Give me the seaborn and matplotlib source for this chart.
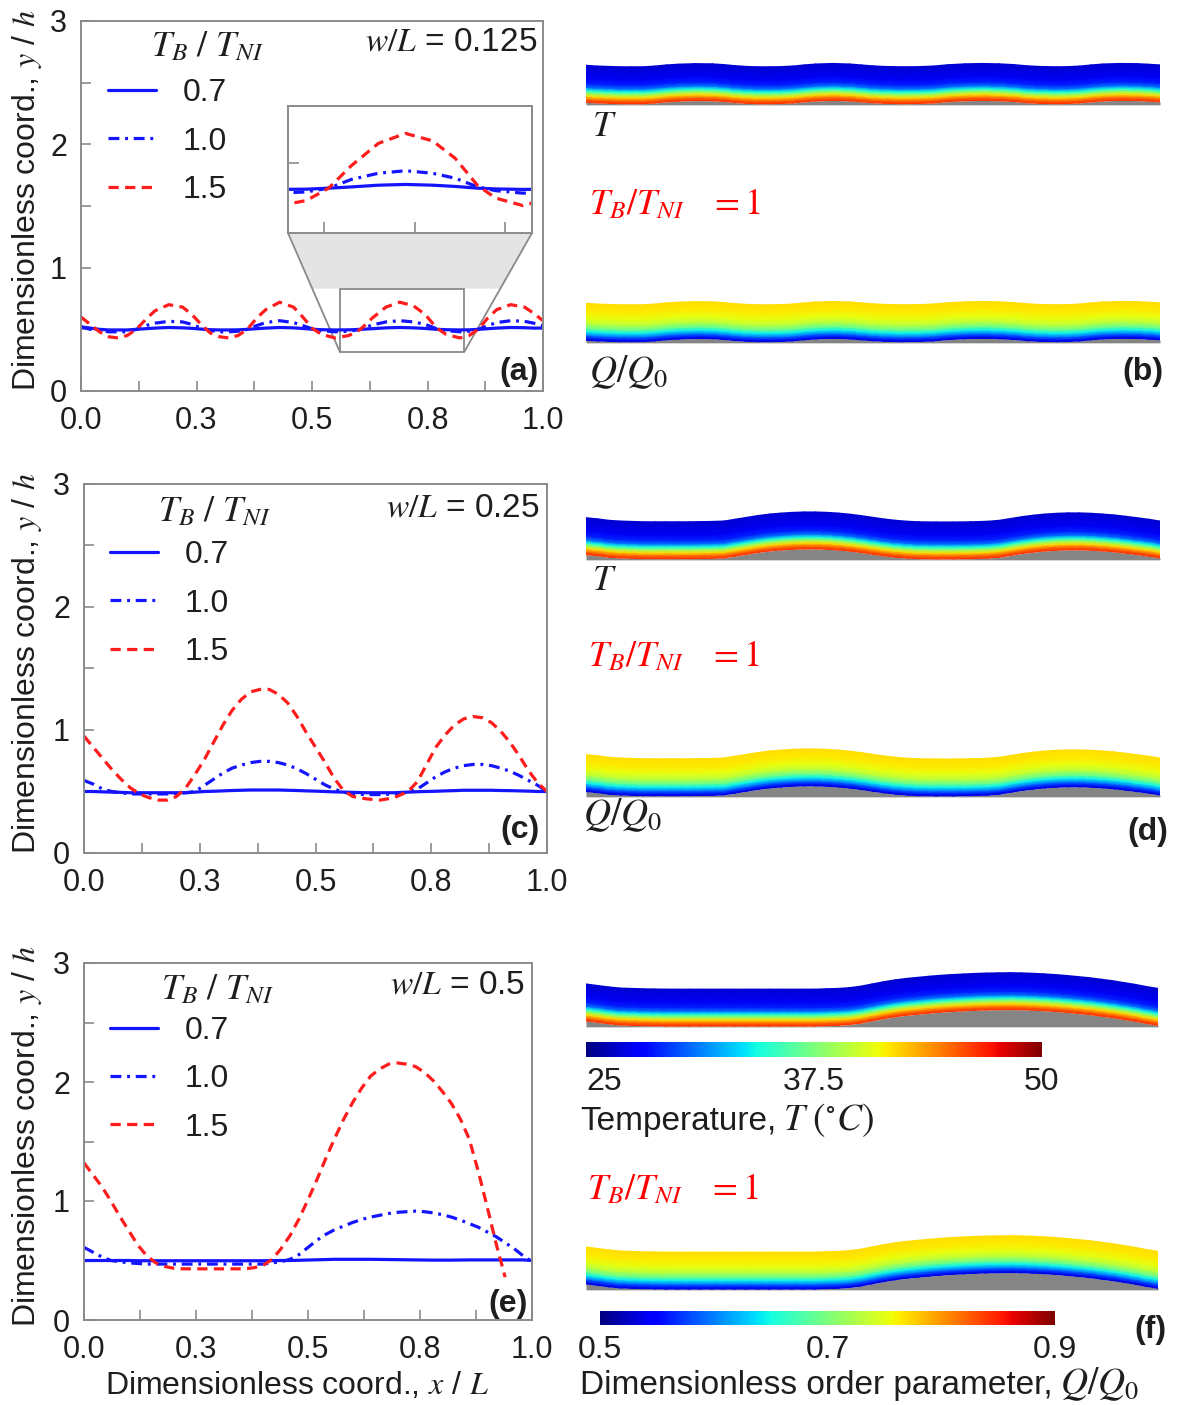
import numpy as np
import matplotlib
matplotlib.use("Agg")
import matplotlib.pyplot as plt
import seaborn as sns
from matplotlib.lines import Line2D
from matplotlib.patches import Rectangle, Polygon
from matplotlib.colors import Normalize
from matplotlib.cm import ScalarMappable
from matplotlib.ticker import MultipleLocator

W, H = 1177, 1405

# ---------------------------------------------------------------- data
ratio_labels = ["0.7", "1.0", "1.5"]          # T_B / T_NI
width_labels = ["0.125", "0.25", "0.5"]       # w / L
x_tick_values = [0.0, 0.25, 0.5, 0.75, 1.0]
x_tick_labels = ["0.0", "0.3", "0.5", "0.8", "1.0"]
y_tick_values = [0, 1, 2, 3]

# panel (a): w/L = 0.125
x_a = [0.00, 0.02, 0.04, 0.06, 0.08, 0.10, 0.12, 0.14, 0.16, 0.19, 0.22, 0.24,
       0.26, 0.28, 0.30, 0.32, 0.34, 0.36, 0.38, 0.40, 0.43, 0.46, 0.48, 0.50,
       0.52, 0.55, 0.58, 0.605, 0.63, 0.66, 0.69, 0.72, 0.745, 0.77, 0.79, 0.82,
       0.84, 0.86, 0.88, 0.90, 0.93, 0.96, 0.98, 1.00]
a_07 = [0.52, 0.51, 0.50, 0.495, 0.495, 0.495, 0.50, 0.505, 0.51, 0.515,
        0.512, 0.508, 0.502, 0.497, 0.495, 0.495, 0.496, 0.50, 0.505, 0.51,
        0.515, 0.512, 0.507, 0.501, 0.497, 0.495, 0.496, 0.50, 0.505, 0.512,
        0.515, 0.512, 0.507, 0.50, 0.497, 0.495, 0.496, 0.50, 0.505, 0.51,
        0.515, 0.513, 0.51, 0.51]
a_10 = [0.52, 0.50, 0.49, 0.48, 0.48, 0.48, 0.50, 0.53, 0.55, 0.565,
        0.56, 0.54, 0.51, 0.49, 0.48, 0.48, 0.485, 0.50, 0.53, 0.555,
        0.57, 0.555, 0.53, 0.505, 0.49, 0.48, 0.485, 0.50, 0.535, 0.56,
        0.57, 0.56, 0.54, 0.505, 0.49, 0.48, 0.485, 0.50, 0.53, 0.555,
        0.57, 0.565, 0.55, 0.53]
a_15 = [0.60, 0.54, 0.48, 0.44, 0.43, 0.45, 0.50, 0.58, 0.65, 0.70,
        0.68, 0.62, 0.54, 0.47, 0.44, 0.43, 0.45, 0.50, 0.59, 0.66,
        0.72, 0.68, 0.60, 0.51, 0.46, 0.43, 0.45, 0.50, 0.59, 0.68,
        0.72, 0.69, 0.62, 0.51, 0.46, 0.43, 0.45, 0.50, 0.59, 0.66,
        0.70, 0.68, 0.63, 0.57]

# panel (c): w/L = 0.25
x_c = [0.00, 0.02, 0.04, 0.06, 0.08, 0.10, 0.12, 0.14, 0.16, 0.18,
       0.20, 0.22, 0.24, 0.26, 0.28, 0.30, 0.32, 0.34, 0.36, 0.38,
       0.40, 0.42, 0.44, 0.46, 0.48, 0.50, 0.52, 0.54, 0.56, 0.58,
       0.61, 0.64, 0.67, 0.70,
       0.72, 0.74, 0.76, 0.78, 0.80, 0.82, 0.84, 0.86, 0.88, 0.90,
       0.92, 0.94, 0.96, 0.98, 1.00]
c_07 = [0.50, 0.50, 0.497, 0.495, 0.493, 0.49, 0.49, 0.49, 0.49, 0.49,
        0.49, 0.49, 0.495, 0.50, 0.502, 0.505, 0.508, 0.51, 0.512, 0.512,
        0.512, 0.512, 0.51, 0.508, 0.505, 0.503, 0.50, 0.497, 0.495, 0.493,
        0.49, 0.49, 0.49, 0.495,
        0.498, 0.50, 0.502, 0.505, 0.507, 0.51, 0.51, 0.51, 0.51, 0.508,
        0.507, 0.505, 0.503, 0.50, 0.50]
c_10 = [0.59, 0.56, 0.52, 0.50, 0.49, 0.48, 0.48, 0.48, 0.48, 0.48,
        0.485, 0.49, 0.50, 0.55, 0.60, 0.65, 0.69, 0.715, 0.735, 0.745,
        0.745, 0.735, 0.715, 0.685, 0.645, 0.60, 0.555, 0.52, 0.495, 0.48,
        0.475, 0.475, 0.48, 0.495,
        0.52, 0.57, 0.62, 0.66, 0.69, 0.71, 0.72, 0.72, 0.71, 0.69,
        0.665, 0.63, 0.59, 0.55, 0.50]
c_15 = [0.95, 0.86, 0.77, 0.68, 0.60, 0.53, 0.48, 0.45, 0.43, 0.43,
        0.46, 0.53, 0.64, 0.76, 0.90, 1.04, 1.16, 1.25, 1.31, 1.33,
        1.33, 1.29, 1.22, 1.11, 0.98, 0.86, 0.74, 0.61, 0.51, 0.46,
        0.44, 0.43, 0.45, 0.50,
        0.58, 0.72, 0.86, 0.96, 1.04, 1.09, 1.11, 1.10, 1.06, 0.99,
        0.90, 0.79, 0.67, 0.57, 0.50]

# panel (e): w/L = 0.5 (sampled every 0.02)
x_e = np.linspace(0.0, 1.0, 51)
e_07 = [0.50, 0.50, 0.50, 0.50, 0.50, 0.50, 0.498, 0.498, 0.498, 0.498,
        0.498, 0.498, 0.498, 0.498, 0.498, 0.498, 0.498, 0.498, 0.498, 0.498,
        0.498, 0.499, 0.50, 0.50, 0.502, 0.504, 0.506, 0.508, 0.51, 0.51,
        0.51, 0.51, 0.51, 0.509, 0.508, 0.507, 0.506, 0.505, 0.504, 0.503,
        0.503, 0.503, 0.504, 0.505, 0.505, 0.505, 0.505, 0.505, 0.505, 0.505,
        0.50]
e_10 = [0.61, 0.57, 0.53, 0.50, 0.49, 0.48, 0.475, 0.47, 0.47, 0.47,
        0.47, 0.47, 0.47, 0.47, 0.47, 0.47, 0.47, 0.47, 0.47, 0.47,
        0.47, 0.48, 0.49, 0.51, 0.55, 0.61, 0.67, 0.72, 0.76, 0.79,
        0.82, 0.845, 0.865, 0.88, 0.895, 0.905, 0.91, 0.915, 0.91, 0.90,
        0.885, 0.865, 0.84, 0.81, 0.78, 0.74, 0.70, 0.65, 0.60, 0.54,
        0.49]
e_15 = [1.32, 1.22, 1.12, 1.00, 0.87, 0.75, 0.63, 0.54, 0.48, 0.45,
        0.435, 0.43, 0.43, 0.43, 0.43, 0.43, 0.43, 0.43, 0.43, 0.44,
        0.46, 0.51, 0.60, 0.71, 0.85, 1.01, 1.18, 1.36, 1.53, 1.69,
        1.83, 1.95, 2.05, 2.11, 2.15, 2.16, 2.15, 2.13, 2.08, 2.01,
        1.92, 1.82, 1.69, 1.52, 1.25, 0.95, 0.64, 0.36, np.nan, np.nan,
        np.nan]

# colour bars
temp_ticks = [25, 37.5, 50]
temp_tick_labels = ["25", "37.5", "50"]
order_ticks = [0.5, 0.7, 0.9]
order_tick_labels = ["0.5", "0.7", "0.9"]

# through-thickness fields (0 = substrate side, 1 = free surface)
thick_T = [0.0, 0.08, 0.16, 0.24, 0.32, 0.40, 0.50, 0.65, 1.0]
temp_T = [46.5, 45.0, 42.0, 38.5, 34.5, 31.0, 29.0, 27.6, 26.8]
thick_Q = [0.0, 0.06, 0.14, 0.23, 0.32, 0.45, 0.60, 0.80, 1.0]
order_Q = [0.53, 0.56, 0.60, 0.645, 0.69, 0.73, 0.752, 0.765, 0.77]

inset_xlim = (0.56, 0.83)
inset_ylim = (0.32, 0.83)

# ---------------------------------------------------------------- style
sns.set_theme(style="ticks")
plt.rcParams.update({
    "font.family": ["Liberation Sans", "DejaVu Sans"],
    "mathtext.fontset": "stix",
    "axes.edgecolor": "#8a8a8a",
    "axes.linewidth": 1.4,
    "xtick.color": "#8a8a8a",
    "ytick.color": "#8a8a8a",
    "xtick.labelcolor": "#1e1e1e",
    "ytick.labelcolor": "#1e1e1e",
    "xtick.direction": "in",
    "ytick.direction": "in",
    "text.color": "#1e1e1e",
    "axes.labelcolor": "#1e1e1e",
})

BLUE, RED, GREY = "#1414ff", "#ff1c1c", "#8a8a8a"
LW = 2.3
LINE_STYLES = {
    "0.7": dict(color=BLUE, linestyle="-"),
    "1.0": dict(color=BLUE, linestyle=(0, (3.4, 1.8, 0.9, 1.8))),
    "1.5": dict(color=RED, linestyle=(0, (3.2, 2.0))),
}

fig = plt.figure(figsize=(W / 100, H / 100), dpi=100)
renderer = fig.canvas.get_renderer()


def rect(l, t, r, b):
    return [l / W, 1 - b / H, (r - l) / W, (b - t) / H]


def ftext(xp, yp, s, **kw):
    return fig.text(xp / W, 1 - yp / H, s, **kw)


def text_pair(xp, yp, plain, math, fs_plain, fs_math, gap=7):
    """Plain caption followed by a (larger) math term on a shared baseline."""
    t1 = ftext(xp, yp, plain, fontsize=fs_plain, ha="left", va="baseline")
    x_end = t1.get_window_extent(renderer=renderer).x1
    ftext(x_end + gap, yp, math, fontsize=fs_math, ha="left", va="baseline")


def plot_series(ax, x, series):
    for lab, y in zip(ratio_labels, series):
        sns.lineplot(x=np.asarray(x, float), y=np.asarray(y, float), ax=ax,
                     lw=LW, estimator=None, sort=False, **LINE_STYLES[lab])
    if ax.get_legend() is not None:
        ax.get_legend().remove()
    ax.set_xlabel("")
    ax.set_ylabel("")


def profile_panel(box, x, series, wl, tag, legend_xy, title_xy, wl_xy, tag_xy):
    l, t, r, b = box
    ax = fig.add_axes(rect(l, t, r, b))
    plot_series(ax, x, series)
    ax.set_xlim(0, 1)
    ax.set_ylim(0, 3)
    ax.set_xticks(x_tick_values, labels=x_tick_labels)
    ax.set_yticks(y_tick_values)
    ax.xaxis.set_minor_locator(MultipleLocator(0.125))
    ax.yaxis.set_minor_locator(MultipleLocator(0.5))
    ax.tick_params(which="both", direction="in", length=7.5, width=1.2,
                   top=False, right=False)
    ax.tick_params(axis="x", labelsize=22, pad=11)
    ax.tick_params(axis="y", labelsize=22, pad=10)
    ax.set_ylabel(r"Dimensionless coord., $y$ / $h$", fontsize=23)
    ax.yaxis.set_label_coords((44 - l) / (r - l), 0.515)

    handles = [Line2D([], [], lw=LW, **LINE_STYLES[k]) for k in ratio_labels]
    ax.legend(handles, ratio_labels, loc="upper left", bbox_to_anchor=legend_xy,
              frameon=False, fontsize=23, handlelength=1.5, handletextpad=0.85,
              labelspacing=0.57, borderpad=0, borderaxespad=0)
    ax.text(*title_xy, r"$T_B\ /\ T_{NI}$", transform=ax.transAxes,
            ha="center", va="center", fontsize=26)
    ax.text(*wl_xy, r"$w/L$ = " + wl, transform=ax.transAxes,
            ha="right", va="center", fontsize=24)
    ax.text(*tag_xy, tag, transform=ax.transAxes, ha="right", va="center",
            fontsize=23, fontweight="bold")
    return ax


def strip(l, r, base, h_px, x, mid, levels, values, norm):
    lo, hi = -0.25, 1.75
    ax = fig.add_axes(rect(l, base - hi * h_px, r, base - lo * h_px))
    ax.set_xlim(0, 1)
    ax.set_ylim(lo, hi)
    ax.axis("off")
    xs = np.asarray(x, float)
    bottom = np.asarray(mid, float) - 0.5
    s = np.asarray(levels, float)
    X = np.tile(xs, (len(s), 1))
    Y = bottom[None, :] + s[:, None]
    C = np.tile(np.asarray(values, float)[:, None], (1, len(xs)))
    ax.fill_between(xs, -0.05, bottom, where=bottom > -0.05, interpolate=True,
                    color="#858585", lw=0, zorder=1)
    ax.pcolormesh(X, Y, C, cmap="jet", norm=norm, shading="gouraud", zorder=2)
    return ax


norm_T = Normalize(25, 50)
norm_Q = Normalize(0.5, 0.9)

# ---------------------------------------------------------------- (a)
box_a = (81, 21, 543, 391)
ax_a = profile_panel(box_a, x_a, [a_07, a_10, a_15], width_labels[0], "(a)",
                     legend_xy=(0.058, 0.845), title_xy=(0.273, 0.93),
                     wl_xy=(0.988, 0.943), tag_xy=(0.99, 0.05))

# zoom window and connector
ins_box = (288, 106, 532, 233)
la, ta, ra, ba = box_a


def to_a(px, py):
    return (px - la) / (ra - la), 3 * (ba - py) / (ba - ta)


x0, x1 = inset_xlim
y0, y1 = inset_ylim
xiL, yi = to_a(ins_box[0], ins_box[3])
xiR, _ = to_a(ins_box[2], ins_box[3])
frac = (yi - y1) / (yi - y0)
xl = xiL + frac * (x0 - xiL)
xr = xiR + frac * (x1 - xiR)
ax_a.add_patch(Polygon([(xiL, yi), (xiR, yi), (xr, y1), (xl, y1)],
                       closed=True, facecolor="#e4e4e4", edgecolor="none", zorder=0.5))
ax_a.plot([xiL, x0], [yi, y0], color=GREY, lw=1.3, zorder=1)
ax_a.plot([xiR, x1], [yi, y0], color=GREY, lw=1.3, zorder=1)
ax_a.add_patch(Rectangle((x0, y0), x1 - x0, y1 - y0, fill=False,
                         edgecolor=GREY, lw=1.3, zorder=1))

ins = fig.add_axes(rect(*ins_box))
plot_series(ins, x_a, [a_07, a_10, a_15])
ins.set_facecolor("white")
ins.set_xlim(*inset_xlim)
ins.set_ylim(*inset_ylim)
ins.set_xticks([0.6, 0.7, 0.8])
ins.set_yticks([0.6])
ins.tick_params(which="both", direction="in", length=8, width=1.2,
                labelbottom=False, labelleft=False, top=False, right=False)

# ---------------------------------------------------------------- (c)
profile_panel((84, 484, 547, 853), x_c, [c_07, c_10, c_15], width_labels[1], "(c)",
              legend_xy=(0.056, 0.847), title_xy=(0.283, 0.924),
              wl_xy=(0.985, 0.935), tag_xy=(0.985, 0.062))

# ---------------------------------------------------------------- (e)
ax_e = profile_panel((84, 963, 532, 1320), x_e, [e_07, e_10, e_15], width_labels[2], "(e)",
                     legend_xy=(0.058, 0.851), title_xy=(0.299, 0.924),
                     wl_xy=(0.985, 0.938), tag_xy=(0.99, 0.045))
ax_e.set_xlabel(r"Dimensionless coord., $x$ / $L$", fontsize=23)
ax_e.xaxis.set_label_coords((297 - 84) / 448, -(1370 - 1320) / 357)

# ---------------------------------------------------------------- strips (b), (d), (f)
red_tag = r"$T_B/T_{NI}\ \ \ = 1$"

strip(586, 1160, 103, 37, x_a, a_10, thick_T, temp_T, norm_T)
strip(586, 1160, 341, 37, x_a, a_10, thick_Q, order_Q, norm_Q)
ftext(592, 126, r"$T$", fontsize=26, ha="left", va="center")
ftext(589, 205, red_tag, fontsize=26, color="red", ha="left", va="center")
ftext(589, 372, r"$Q/Q_0$", fontsize=27, ha="left", va="center")
ftext(1164, 372, "(b)", fontsize=23, fontweight="bold", ha="right", va="center")

strip(586, 1160, 558, 37, x_c, c_10, thick_T, temp_T, norm_T)
strip(586, 1160, 795, 37, x_c, c_10, thick_Q, order_Q, norm_Q)
ftext(592, 580, r"$T$", fontsize=26, ha="left", va="center")
ftext(588, 657, red_tag, fontsize=26, color="red", ha="left", va="center")
ftext(583, 815, r"$Q/Q_0$", fontsize=27, ha="left", va="center")
ftext(1168, 832, "(d)", fontsize=23, fontweight="bold", ha="right", va="center")

strip(586, 1158, 1025, 37, x_e, e_10, thick_T, temp_T, norm_T)
strip(586, 1158, 1288, 37, x_e, e_10, thick_Q, order_Q, norm_Q)

cax_T = fig.add_axes(rect(586, 1042, 1042, 1057))
cb_T = fig.colorbar(ScalarMappable(norm=norm_T, cmap="jet"), cax=cax_T,
                    orientation="horizontal", ticks=temp_ticks)
cb_T.set_ticklabels(temp_tick_labels)
cb_T.outline.set_visible(False)
cax_T.tick_params(length=0, labelsize=23, pad=7)
cax_T.get_xticklabels()[0].set_horizontalalignment("left")

cax_Q = fig.add_axes(rect(600, 1311, 1055, 1325))
cb_Q = fig.colorbar(ScalarMappable(norm=norm_Q, cmap="jet"), cax=cax_Q,
                    orientation="horizontal", ticks=order_ticks)
cb_Q.set_ticklabels(order_tick_labels)
cb_Q.outline.set_visible(False)
cax_Q.tick_params(length=0, labelsize=23, pad=7)

text_pair(580, 1130, "Temperature,", r"$T\ (^{\circ}C)$", 24, 27)
ftext(587, 1190, red_tag, fontsize=26, color="red", ha="left", va="center")
ftext(1166, 1330, "(f)", fontsize=23, fontweight="bold", ha="right", va="center")
text_pair(580, 1394, "Dimensionless order parameter,", r"$Q/Q_0$", 24, 27)

fig.savefig("out.png", dpi=100)
